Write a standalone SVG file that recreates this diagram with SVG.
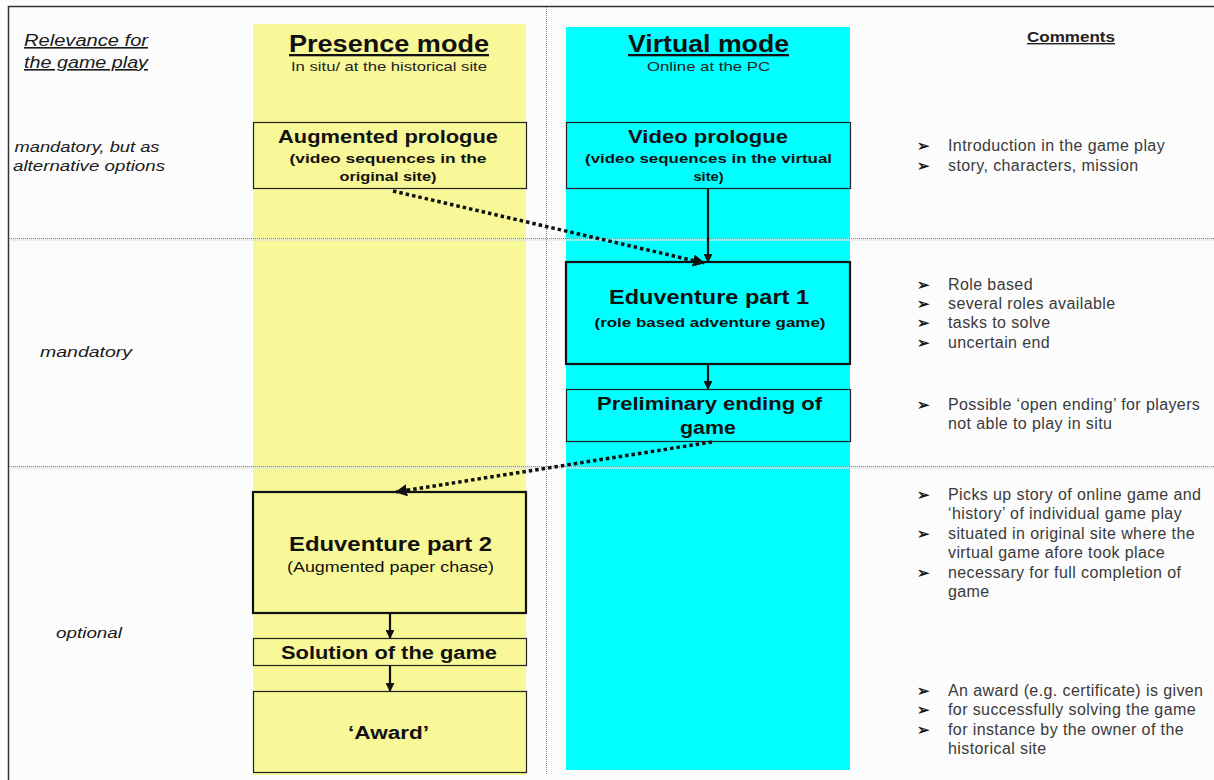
<svg xmlns="http://www.w3.org/2000/svg" width="1214" height="780" viewBox="0 0 1214 780">
<defs>
<marker id="ah" viewBox="0 0 10 10" refX="9" refY="5" markerWidth="4" markerHeight="4" orient="auto" markerUnits="strokeWidth">
<path d="M0,0 L10,5 L0,10 z" fill="#111"/>
</marker>
<marker id="ahd" viewBox="0 0 10 10" refX="9" refY="5" markerWidth="3.5" markerHeight="3.5" orient="auto" markerUnits="strokeWidth">
<path d="M0,0 L10,5 L0,10 z" fill="#111"/>
</marker>
<style>
text{font-family:"Liberation Sans",Arial,sans-serif;fill:#111}
.hd{font-size:23px;font-weight:bold;text-anchor:middle;text-decoration:underline}
.sub{font-size:13px;text-anchor:middle;fill:#222}
.lab{font-size:15px;font-style:italic;fill:#1a1a1a}
.box{stroke:#222;stroke-width:1.2}
.bx2{stroke:#111;stroke-width:2.2}
.t1{font-size:18px;font-weight:bold;text-anchor:middle}
.t2{font-size:13px;font-weight:bold;text-anchor:middle}
.cm{font-size:16px;fill:#3a3a3a;letter-spacing:0.4px}
.bu{font-size:15px;fill:#1a1a1a;font-weight:bold}
.sepb{stroke:#e2e2e2;stroke-width:3}
.sep{stroke:#8a8a8a;stroke-width:1;stroke-dasharray:1 1}
.arr{stroke:#111;stroke-width:2.2;fill:none}
.dot{stroke:#111;stroke-width:3.5;fill:none;stroke-dasharray:3.5 3}
</style>
</defs>
<rect x="0" y="0" width="1214" height="780" fill="#fcfcfc"/>
<g id="columns">
<rect id="presence-col" x="253" y="24" width="273" height="751" fill="#f8f898"/>
<rect id="virtual-col" x="566" y="27" width="284" height="743" fill="#00ffff"/>
</g>
<g id="frame">
<path d="M8.5,780 V6.5 H1214" fill="none" stroke="#333" stroke-width="1.5"/>
<line class="sepb" x1="9" y1="239.5" x2="1214" y2="239.5" opacity="0.6"/>
<line class="sepb" x1="9" y1="467.5" x2="1214" y2="467.5" opacity="0.6"/>
<line class="sep" x1="9" y1="238.5" x2="1214" y2="238.5"/>
<line class="sep" x1="9" y1="466.5" x2="1214" y2="466.5"/>
<line class="sep" x1="546.5" y1="7" x2="546.5" y2="775"/>
</g>
<g id="headers">
<text class="lab" x="86" y="46" text-anchor="middle" style="font-size:16px;text-decoration:underline" textLength="124" lengthAdjust="spacingAndGlyphs">Relevance for</text>
<text class="lab" x="86" y="68" text-anchor="middle" style="font-size:16px;text-decoration:underline" textLength="124" lengthAdjust="spacingAndGlyphs">the game play</text>
<text class="hd" x="389" y="52" textLength="200" lengthAdjust="spacingAndGlyphs">Presence mode</text>
<text class="sub" x="389" y="71" textLength="196" lengthAdjust="spacingAndGlyphs">In situ/ at the historical site</text>
<text class="hd" x="708.5" y="52" textLength="161" lengthAdjust="spacingAndGlyphs">Virtual mode</text>
<text class="sub" x="708.5" y="71" textLength="123" lengthAdjust="spacingAndGlyphs">Online at the PC</text>
<text x="1071" y="42" style="font-size:14px;font-weight:bold;text-anchor:middle;text-decoration:underline;fill:#222" textLength="88" lengthAdjust="spacingAndGlyphs">Comments</text>
</g>
<g id="relevance">
<text class="lab" x="87" y="152" text-anchor="middle" textLength="145" lengthAdjust="spacingAndGlyphs">mandatory, but as</text>
<text class="lab" x="89" y="171" text-anchor="middle" textLength="152" lengthAdjust="spacingAndGlyphs">alternative options</text>
<text class="lab" x="40" y="357" textLength="92" lengthAdjust="spacingAndGlyphs">mandatory</text>
<text class="lab" x="56" y="638" textLength="66" lengthAdjust="spacingAndGlyphs">optional</text>
</g>
<g id="augmented-prologue">
<rect class="box" x="253.5" y="122.5" width="273" height="66" fill="#f8f898"/>
<text class="t1" x="388" y="143" textLength="220" lengthAdjust="spacingAndGlyphs">Augmented prologue</text>
<text class="t2" x="388" y="163" textLength="197" lengthAdjust="spacingAndGlyphs">(video sequences in the</text>
<text class="t2" x="388" y="181" textLength="97" lengthAdjust="spacingAndGlyphs">original site)</text>
</g>
<g id="video-prologue">
<rect class="box" x="566.5" y="122.5" width="284" height="66" fill="#00ffff"/>
<text class="t1" x="708" y="143" textLength="160" lengthAdjust="spacingAndGlyphs">Video prologue</text>
<text class="t2" x="708.5" y="163" textLength="247" lengthAdjust="spacingAndGlyphs">(video sequences in the virtual</text>
<text class="t2" x="708.5" y="181" textLength="30" lengthAdjust="spacingAndGlyphs">site)</text>
</g>
<g id="eduventure-1">
<rect class="bx2" x="566" y="262" width="284" height="102" fill="#00ffff"/>
<text class="t1" x="709" y="304" style="font-size:21px" textLength="200" lengthAdjust="spacingAndGlyphs">Eduventure part 1</text>
<text class="t2" x="710" y="327" textLength="231" lengthAdjust="spacingAndGlyphs">(role based adventure game)</text>
</g>
<g id="preliminary-ending">
<rect class="box" x="566.5" y="389.5" width="284" height="52" fill="#00ffff"/>
<text class="t1" x="709.5" y="410" textLength="225" lengthAdjust="spacingAndGlyphs">Preliminary ending of</text>
<text class="t1" x="708" y="434" textLength="56" lengthAdjust="spacingAndGlyphs">game</text>
</g>
<g id="eduventure-2">
<rect class="bx2" x="253" y="492" width="273" height="121" fill="#f8f898"/>
<text class="t1" x="390.5" y="551" style="font-size:21px" textLength="203" lengthAdjust="spacingAndGlyphs">Eduventure part 2</text>
<text class="sub" x="390.5" y="572" style="font-size:14px;fill:#111" textLength="207" lengthAdjust="spacingAndGlyphs">(Augmented paper chase)</text>
</g>
<g id="solution">
<rect class="box" x="253.5" y="638.5" width="273" height="27" fill="#f8f898"/>
<text class="t1" x="389" y="659" textLength="216" lengthAdjust="spacingAndGlyphs">Solution of the game</text>
</g>
<g id="award">
<rect class="box" x="253.5" y="691.5" width="273" height="81" fill="#f8f898"/>
<text class="t1" x="388.5" y="739" textLength="81" lengthAdjust="spacingAndGlyphs">‘Award’</text>
</g>
<g id="connectors">
<line class="arr" x1="708" y1="189" x2="708" y2="262" marker-end="url(#ah)"/>
<line class="dot" x1="393" y1="191" x2="704" y2="263" marker-end="url(#ahd)"/>
<line class="arr" x1="708" y1="365" x2="708" y2="389" marker-end="url(#ah)"/>
<line class="dot" x1="712" y1="442" x2="396" y2="492" marker-end="url(#ahd)"/>
<line class="arr" x1="390" y1="613" x2="390" y2="638" marker-end="url(#ah)"/>
<line class="arr" x1="390" y1="666" x2="390" y2="691" marker-end="url(#ah)"/>
</g>
<g id="comments">
<text class="bu" x="917" y="151">➢</text><text class="cm" x="948" y="151">Introduction in the game play</text>
<text class="bu" x="917" y="171">➢</text><text class="cm" x="948" y="171">story, characters, mission</text>
<text class="bu" x="917" y="290">➢</text><text class="cm" x="948" y="290">Role based</text>
<text class="bu" x="917" y="309">➢</text><text class="cm" x="948" y="309">several roles available</text>
<text class="bu" x="917" y="328">➢</text><text class="cm" x="948" y="328">tasks to solve</text>
<text class="bu" x="917" y="348">➢</text><text class="cm" x="948" y="348">uncertain end</text>
<text class="bu" x="917" y="410">➢</text><text class="cm" x="948" y="410">Possible ‘open ending’ for players</text>
<text class="cm" x="948" y="429">not able to play in situ</text>
<text class="bu" x="917" y="500">➢</text><text class="cm" x="948" y="500">Picks up story of online game and</text>
<text class="cm" x="948" y="519">‘history’ of individual game play</text>
<text class="bu" x="917" y="539">➢</text><text class="cm" x="948" y="539">situated in original site where the</text>
<text class="cm" x="948" y="558">virtual game afore took place</text>
<text class="bu" x="917" y="578">➢</text><text class="cm" x="948" y="578">necessary for full completion of</text>
<text class="cm" x="948" y="597">game</text>
<text class="bu" x="917" y="696">➢</text><text class="cm" x="948" y="696">An award (e.g. certificate) is given</text>
<text class="bu" x="917" y="715">➢</text><text class="cm" x="948" y="715">for successfully solving the game</text>
<text class="bu" x="917" y="735">➢</text><text class="cm" x="948" y="735">for instance by the owner of the</text>
<text class="cm" x="948" y="754">historical site</text>
</g>
</svg>
